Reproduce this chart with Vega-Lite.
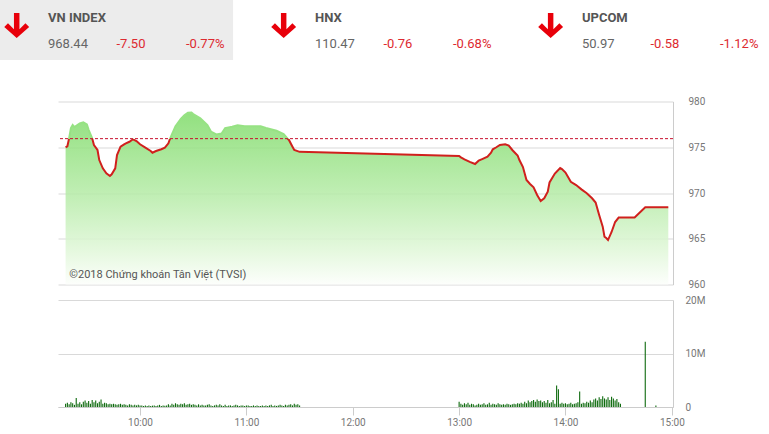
{
  "$schema": "https://vega.github.io/schema/vega-lite/v6.json",
  "padding": 0,
  "background": "white",
  "config": {
    "view": {"stroke": null},
    "font": "Roboto",
    "axis": {"labelFont": "Roboto", "labelColor": "#777777", "labelFontSize": 10, "gridColor": "#d9d9d9", "domainColor": "#cccccc", "tickColor": "#cccccc"}
  },
  "bounds": "flush",
  "spacing": 41.5,
  "vconcat": [
    {
      "width": 709,
      "height": 60,
      "data": {"values": [
        {"idx": "VN INDEX", "val": "968.44", "chg": "-7.50", "pct": "-0.77%"},
        {"idx": "HNX", "val": "110.47", "chg": "-0.76", "pct": "-0.68%"},
        {"idx": "UPCOM", "val": "50.97", "chg": "-0.58", "pct": "-1.12%"}
      ]},
      "layer": [
        {
          "mark": {"type": "rect"},
          "encoding": {
            "x": {"field": "idx", "type": "nominal", "scale": {"domain": ["VN INDEX", "HNX", "UPCOM"], "range": [-58, 709], "paddingInner": 0.127, "paddingOuter": 0}, "axis": null},
            "fill": {"condition": {"test": "datum.idx === 'VN INDEX'", "value": "#ececec"}, "value": "transparent"}
          }
        },
        {
          "mark": {"type": "point", "shape": "M-0.22,-1L0.22,-1L0.22,0.3L0.7,-0.18L1,0.12L0,1L-1,0.12L-0.7,-0.18L-0.22,0.3Z", "size": 620, "filled": true, "fill": "#e8000a", "opacity": 1, "strokeWidth": 0, "xOffset": 16.7, "yOffset": -4.5},
          "encoding": {"x": {"field": "idx", "type": "nominal", "bandPosition": 0, "axis": null}}
        },
        {
          "mark": {"type": "text", "align": "left", "baseline": "alphabetic", "dx": 48, "dy": -8, "fontSize": 13, "fontWeight": "bold", "fill": "#555555"},
          "encoding": {"x": {"field": "idx", "type": "nominal", "bandPosition": 0, "axis": null}, "text": {"field": "idx"}}
        },
        {
          "mark": {"type": "text", "align": "left", "baseline": "alphabetic", "dx": 48, "dy": 18, "fontSize": 13, "fill": "#666666"},
          "encoding": {"x": {"field": "idx", "type": "nominal", "bandPosition": 0, "axis": null}, "text": {"field": "val"}}
        },
        {
          "mark": {"type": "text", "align": "left", "baseline": "alphabetic", "dx": 116.5, "dy": 18, "fontSize": 13, "fill": "#dd2a30"},
          "encoding": {"x": {"field": "idx", "type": "nominal", "bandPosition": 0, "axis": null}, "text": {"field": "chg"}}
        },
        {
          "mark": {"type": "text", "align": "left", "baseline": "alphabetic", "dx": 186, "dy": 18, "fontSize": 13, "fill": "#dd2a30"},
          "encoding": {"x": {"field": "idx", "type": "nominal", "bandPosition": 0, "axis": null}, "text": {"field": "pct"}}
        }
      ]
    },
    {
      "bounds": "flush",
      "spacing": 15.5,
      "vconcat": [
        {
          "width": 615,
          "height": 183,
          "data": {"format": {"parse": {"t": "date:'%H:%M'"}}, "values": [
            {"t": "09:18", "p": 975.0}, {"t": "09:19", "p": 975.1}, {"t": "09:20", "p": 976.0}, {"t": "09:21", "p": 977.1},
            {"t": "09:22", "p": 977.43}, {"t": "09:23", "p": 977.2}, {"t": "09:26", "p": 977.6}, {"t": "09:28", "p": 977.73},
            {"t": "09:30", "p": 977.5}, {"t": "09:31", "p": 976.9}, {"t": "09:33", "p": 975.98}, {"t": "09:34", "p": 975.25},
            {"t": "09:36", "p": 974.7}, {"t": "09:37", "p": 973.6}, {"t": "09:39", "p": 972.7}, {"t": "09:41", "p": 972.15},
            {"t": "09:43", "p": 971.86}, {"t": "09:44", "p": 972.04}, {"t": "09:46", "p": 972.7}, {"t": "09:47", "p": 974.15},
            {"t": "09:49", "p": 975.06}, {"t": "09:51", "p": 975.32}, {"t": "09:52", "p": 975.43}, {"t": "09:54", "p": 975.6},
            {"t": "09:56", "p": 975.87}, {"t": "09:58", "p": 975.68}, {"t": "10:00", "p": 975.32}, {"t": "10:03", "p": 974.95},
            {"t": "10:06", "p": 974.59}, {"t": "10:07", "p": 974.4}, {"t": "10:09", "p": 974.59}, {"t": "10:12", "p": 974.78},
            {"t": "10:14", "p": 974.95}, {"t": "10:16", "p": 975.43}, {"t": "10:17", "p": 975.98}, {"t": "10:20", "p": 977.3},
            {"t": "10:23", "p": 978.1}, {"t": "10:25", "p": 978.5}, {"t": "10:27", "p": 978.78}, {"t": "10:29", "p": 978.8},
            {"t": "10:30", "p": 978.63}, {"t": "10:34", "p": 978.16}, {"t": "10:38", "p": 977.43}, {"t": "10:40", "p": 976.72},
            {"t": "10:43", "p": 976.4}, {"t": "10:46", "p": 976.5}, {"t": "10:48", "p": 977.1}, {"t": "10:52", "p": 977.25},
            {"t": "10:55", "p": 977.4}, {"t": "10:59", "p": 977.3}, {"t": "11:04", "p": 977.3}, {"t": "11:08", "p": 977.3},
            {"t": "11:11", "p": 977.1}, {"t": "11:17", "p": 976.8}, {"t": "11:21", "p": 976.45}, {"t": "11:23", "p": 976.0},
            {"t": "11:24", "p": 975.8}, {"t": "11:26", "p": 975.06}, {"t": "11:27", "p": 974.7}, {"t": "11:30", "p": 974.5},
            {"t": "13:00", "p": 974.05}, {"t": "13:01", "p": 973.9}, {"t": "13:03", "p": 973.68}, {"t": "13:06", "p": 973.4},
            {"t": "13:09", "p": 973.17}, {"t": "13:11", "p": 973.53}, {"t": "13:13", "p": 973.7}, {"t": "13:16", "p": 973.97},
            {"t": "13:18", "p": 974.4}, {"t": "13:19", "p": 974.78}, {"t": "13:21", "p": 975.0}, {"t": "13:23", "p": 975.25},
            {"t": "13:26", "p": 975.33}, {"t": "13:28", "p": 975.19}, {"t": "13:30", "p": 974.7}, {"t": "13:33", "p": 974.1},
            {"t": "13:34", "p": 973.6}, {"t": "13:36", "p": 972.84}, {"t": "13:38", "p": 971.42}, {"t": "13:40", "p": 970.98},
            {"t": "13:42", "p": 970.62}, {"t": "13:44", "p": 969.78}, {"t": "13:46", "p": 969.12}, {"t": "13:48", "p": 969.42},
            {"t": "13:50", "p": 970.14}, {"t": "13:51", "p": 971.15}, {"t": "13:54", "p": 972.13}, {"t": "13:57", "p": 972.73},
            {"t": "13:58", "p": 972.62}, {"t": "14:00", "p": 972.24}, {"t": "14:03", "p": 971.23}, {"t": "14:06", "p": 970.87},
            {"t": "14:09", "p": 970.4}, {"t": "14:12", "p": 969.97}, {"t": "14:15", "p": 969.42}, {"t": "14:17", "p": 968.96},
            {"t": "14:19", "p": 967.59}, {"t": "14:21", "p": 966.32}, {"t": "14:22", "p": 965.22}, {"t": "14:23", "p": 965.08},
            {"t": "14:24", "p": 964.86}, {"t": "14:26", "p": 965.74}, {"t": "14:28", "p": 966.83}, {"t": "14:30", "p": 967.32},
            {"t": "14:39", "p": 967.32}, {"t": "14:45", "p": 968.44}, {"t": "14:58", "p": 968.44}
          ]},
          "layer": [
            {
              "mark": {"type": "area", "fillOpacity": 0.85, "fill": {"gradient": "linear", "x1": 0, "y1": 0, "x2": 0, "y2": 1, "stops": [
                {"offset": 0, "color": "#7fdb69"}, {"offset": 0.5, "color": "#b8ecaa"}, {"offset": 0.8, "color": "#e0f7d8"}, {"offset": 1, "color": "#fcfefb"}]}},
              "encoding": {
                "x": {"field": "t", "type": "temporal", "scale": {"domain": [{"year": 1900, "month": 1, "date": 1, "hours": 9, "minutes": 13, "seconds": 43}, {"year": 1900, "month": 1, "date": 1, "hours": 15, "minutes": 0, "seconds": 39}], "nice": false}, "axis": null},
                "y": {"field": "p", "type": "quantitative", "scale": {"domain": [960, 980], "nice": false, "zero": false}, "axis": {"orient": "right", "values": [960, 965, 970, 975, 980], "ticks": false, "labelPadding": 15, "title": null}},
                "y2": {"datum": 960}
              }
            },
            {
              "mark": {"type": "line", "strokeWidth": 2, "stroke": {"gradient": "linear", "x1": 0, "y1": 0, "x2": 0, "y2": 1, "stops": [
                {"offset": 0, "color": "#96e283"}, {"offset": 0.2052, "color": "#96e283"}, {"offset": 0.2052, "color": "#d0201d"}, {"offset": 1, "color": "#d0201d"}]}},
              "encoding": {
                "x": {"field": "t", "type": "temporal"},
                "y": {"field": "p", "type": "quantitative"}
              }
            },
            {
              "data": {"values": [{"ref": 975.94}]},
              "mark": {"type": "rule", "color": "#c8102e", "strokeDash": [3, 2], "strokeWidth": 1},
              "encoding": {"y": {"field": "ref", "type": "quantitative"}}
            },
            {
              "data": {"values": [{"label": "©2018 Chứng khoán Tân Việt (TVSI)"}]},
              "mark": {"type": "text", "align": "left", "baseline": "middle", "fontSize": 11, "fill": "#555555"},
              "encoding": {
                "text": {"field": "label"},
                "x": {"datum": {"year": 1900, "month": 1, "date": 1, "hours": 9, "minutes": 20, "seconds": 6}, "type": "temporal"},
                "y": {"datum": 961.04, "type": "quantitative"}
              }
            }
          ]
        },
        {
          "width": 615,
          "height": 107,
          "data": {"format": {"parse": {"t": "date:'%H:%M'"}}, "values": [
            {"t": "09:18", "v": 0.6}, {"t": "09:19", "v": 0.8}, {"t": "09:20", "v": 0.5}, {"t": "09:21", "v": 0.9}, {"t": "09:22", "v": 0.7},
            {"t": "09:23", "v": 0.4}, {"t": "09:24", "v": 1.7}, {"t": "09:25", "v": 0.6}, {"t": "09:26", "v": 0.9}, {"t": "09:27", "v": 0.5},
            {"t": "09:28", "v": 1.0}, {"t": "09:29", "v": 1.2}, {"t": "09:30", "v": 0.8}, {"t": "09:31", "v": 1.1}, {"t": "09:32", "v": 0.6},
            {"t": "09:33", "v": 1.3}, {"t": "09:34", "v": 0.9}, {"t": "09:35", "v": 1.2}, {"t": "09:36", "v": 0.7}, {"t": "09:37", "v": 1.0},
            {"t": "09:38", "v": 1.4}, {"t": "09:39", "v": 0.6}, {"t": "09:40", "v": 0.8}, {"t": "09:41", "v": 0.7}, {"t": "09:42", "v": 0.5},
            {"t": "09:43", "v": 0.6}, {"t": "09:44", "v": 0.5}, {"t": "09:45", "v": 0.6}, {"t": "09:46", "v": 0.5}, {"t": "09:47", "v": 0.4},
            {"t": "09:48", "v": 0.5}, {"t": "09:49", "v": 0.6}, {"t": "09:50", "v": 0.4}, {"t": "09:51", "v": 0.5}, {"t": "09:52", "v": 0.4},
            {"t": "09:53", "v": 0.3}, {"t": "09:54", "v": 0.5}, {"t": "09:55", "v": 0.4}, {"t": "09:56", "v": 0.3}, {"t": "09:57", "v": 0.4},
            {"t": "09:58", "v": 0.3}, {"t": "09:59", "v": 0.4}, {"t": "10:00", "v": 0.3}, {"t": "10:01", "v": 0.3}, {"t": "10:02", "v": 0.2},
            {"t": "10:03", "v": 0.3}, {"t": "10:04", "v": 0.2}, {"t": "10:05", "v": 0.3}, {"t": "10:06", "v": 0.2}, {"t": "10:07", "v": 0.25},
            {"t": "10:08", "v": 0.3}, {"t": "10:09", "v": 0.2}, {"t": "10:10", "v": 0.3}, {"t": "10:11", "v": 0.4}, {"t": "10:12", "v": 0.2},
            {"t": "10:13", "v": 0.3}, {"t": "10:14", "v": 0.25}, {"t": "10:15", "v": 0.3}, {"t": "10:16", "v": 0.5}, {"t": "10:17", "v": 0.3},
            {"t": "10:18", "v": 0.6}, {"t": "10:19", "v": 0.4}, {"t": "10:20", "v": 0.7}, {"t": "10:21", "v": 0.5}, {"t": "10:22", "v": 0.4},
            {"t": "10:23", "v": 0.6}, {"t": "10:24", "v": 0.5}, {"t": "10:25", "v": 0.7}, {"t": "10:26", "v": 0.4}, {"t": "10:27", "v": 0.5},
            {"t": "10:28", "v": 0.6}, {"t": "10:29", "v": 0.4}, {"t": "10:30", "v": 0.5}, {"t": "10:31", "v": 0.4}, {"t": "10:32", "v": 0.3},
            {"t": "10:33", "v": 0.5}, {"t": "10:34", "v": 0.3}, {"t": "10:35", "v": 0.4}, {"t": "10:36", "v": 0.3}, {"t": "10:37", "v": 0.3},
            {"t": "10:38", "v": 0.4}, {"t": "10:39", "v": 0.5}, {"t": "10:40", "v": 0.3}, {"t": "10:41", "v": 0.2}, {"t": "10:42", "v": 0.3},
            {"t": "10:43", "v": 0.4}, {"t": "10:44", "v": 0.3}, {"t": "10:45", "v": 0.5}, {"t": "10:46", "v": 0.3}, {"t": "10:47", "v": 0.2},
            {"t": "10:48", "v": 0.4}, {"t": "10:49", "v": 0.2}, {"t": "10:50", "v": 0.3}, {"t": "10:51", "v": 0.3}, {"t": "10:52", "v": 0.2},
            {"t": "10:53", "v": 0.3}, {"t": "10:54", "v": 0.4}, {"t": "10:55", "v": 0.3}, {"t": "10:56", "v": 0.2}, {"t": "10:57", "v": 0.3},
            {"t": "10:58", "v": 0.3}, {"t": "10:59", "v": 0.2}, {"t": "11:00", "v": 0.3}, {"t": "11:01", "v": 0.3}, {"t": "11:02", "v": 0.2},
            {"t": "11:03", "v": 0.2}, {"t": "11:04", "v": 0.3}, {"t": "11:05", "v": 0.2}, {"t": "11:06", "v": 0.3}, {"t": "11:07", "v": 0.2},
            {"t": "11:08", "v": 0.2}, {"t": "11:09", "v": 0.3}, {"t": "11:10", "v": 0.2}, {"t": "11:11", "v": 0.3}, {"t": "11:12", "v": 0.2},
            {"t": "11:13", "v": 0.3}, {"t": "11:14", "v": 0.4}, {"t": "11:15", "v": 0.2}, {"t": "11:16", "v": 0.3}, {"t": "11:17", "v": 0.2},
            {"t": "11:18", "v": 0.3}, {"t": "11:19", "v": 0.4}, {"t": "11:20", "v": 0.3}, {"t": "11:21", "v": 0.2}, {"t": "11:22", "v": 0.4},
            {"t": "11:23", "v": 0.3}, {"t": "11:24", "v": 0.4}, {"t": "11:25", "v": 0.5}, {"t": "11:26", "v": 0.3}, {"t": "11:27", "v": 0.6},
            {"t": "11:28", "v": 0.4}, {"t": "11:29", "v": 0.5}, {"t": "11:30", "v": 0.3},
            {"t": "13:00", "v": 1.0}, {"t": "13:01", "v": 0.6}, {"t": "13:02", "v": 0.4}, {"t": "13:03", "v": 0.7}, {"t": "13:04", "v": 0.5},
            {"t": "13:05", "v": 0.8}, {"t": "13:06", "v": 0.4}, {"t": "13:07", "v": 0.6}, {"t": "13:08", "v": 0.5}, {"t": "13:09", "v": 0.3},
            {"t": "13:10", "v": 0.4}, {"t": "13:11", "v": 0.6}, {"t": "13:12", "v": 0.4}, {"t": "13:13", "v": 0.5}, {"t": "13:14", "v": 0.7},
            {"t": "13:15", "v": 0.4}, {"t": "13:16", "v": 0.5}, {"t": "13:17", "v": 0.8}, {"t": "13:18", "v": 0.4}, {"t": "13:19", "v": 0.6},
            {"t": "13:20", "v": 0.5}, {"t": "13:21", "v": 0.4}, {"t": "13:22", "v": 0.7}, {"t": "13:23", "v": 0.5}, {"t": "13:24", "v": 0.4},
            {"t": "13:25", "v": 0.5}, {"t": "13:26", "v": 0.4}, {"t": "13:27", "v": 0.6}, {"t": "13:28", "v": 0.5}, {"t": "13:29", "v": 0.4},
            {"t": "13:30", "v": 0.5}, {"t": "13:31", "v": 0.6}, {"t": "13:32", "v": 0.5}, {"t": "13:33", "v": 0.7}, {"t": "13:34", "v": 0.6},
            {"t": "13:35", "v": 0.8}, {"t": "13:36", "v": 0.6}, {"t": "13:37", "v": 1.0}, {"t": "13:38", "v": 0.7}, {"t": "13:39", "v": 1.2},
            {"t": "13:40", "v": 0.9}, {"t": "13:41", "v": 1.1}, {"t": "13:42", "v": 1.3}, {"t": "13:43", "v": 1.0}, {"t": "13:44", "v": 1.4},
            {"t": "13:45", "v": 1.1}, {"t": "13:46", "v": 1.2}, {"t": "13:47", "v": 0.9}, {"t": "13:48", "v": 1.1}, {"t": "13:49", "v": 0.8},
            {"t": "13:50", "v": 1.3}, {"t": "13:51", "v": 0.7}, {"t": "13:52", "v": 0.9}, {"t": "13:53", "v": 1.3}, {"t": "13:54", "v": 0.6},
            {"t": "13:55", "v": 4.0}, {"t": "13:56", "v": 3.3}, {"t": "13:57", "v": 0.6}, {"t": "13:58", "v": 0.8}, {"t": "13:59", "v": 0.6},
            {"t": "14:00", "v": 0.7}, {"t": "14:01", "v": 0.5}, {"t": "14:02", "v": 0.6}, {"t": "14:03", "v": 0.8}, {"t": "14:04", "v": 0.5},
            {"t": "14:05", "v": 0.6}, {"t": "14:06", "v": 0.7}, {"t": "14:07", "v": 0.9}, {"t": "14:08", "v": 2.9}, {"t": "14:09", "v": 0.6},
            {"t": "14:10", "v": 0.8}, {"t": "14:11", "v": 0.7}, {"t": "14:12", "v": 1.0}, {"t": "14:13", "v": 0.8}, {"t": "14:14", "v": 1.2},
            {"t": "14:15", "v": 0.9}, {"t": "14:16", "v": 1.4}, {"t": "14:17", "v": 1.6}, {"t": "14:18", "v": 1.2}, {"t": "14:19", "v": 1.8},
            {"t": "14:20", "v": 1.5}, {"t": "14:21", "v": 2.0}, {"t": "14:22", "v": 1.6}, {"t": "14:23", "v": 1.4}, {"t": "14:24", "v": 1.8},
            {"t": "14:25", "v": 1.3}, {"t": "14:26", "v": 1.9}, {"t": "14:27", "v": 1.6}, {"t": "14:28", "v": 1.2}, {"t": "14:29", "v": 1.5},
            {"t": "14:30", "v": 0.9}, {"t": "14:31", "v": 0.6}, {"t": "14:45", "v": 12.2}, {"t": "14:51", "v": 0.3}
          ]},
          "mark": {"type": "rule", "color": "#0e6a0e", "strokeWidth": 1.1},
          "encoding": {
            "x": {"field": "t", "type": "temporal", "scale": {"domain": [{"year": 1900, "month": 1, "date": 1, "hours": 9, "minutes": 13, "seconds": 43}, {"year": 1900, "month": 1, "date": 1, "hours": 15, "minutes": 0, "seconds": 39}], "nice": false},
              "axis": {"values": [
                {"year": 1900, "month": 1, "date": 1, "hours": 10}, {"year": 1900, "month": 1, "date": 1, "hours": 11}, {"year": 1900, "month": 1, "date": 1, "hours": 12},
                {"year": 1900, "month": 1, "date": 1, "hours": 13}, {"year": 1900, "month": 1, "date": 1, "hours": 14}, {"year": 1900, "month": 1, "date": 1, "hours": 15}],
                "format": "%H:%M", "grid": false, "tickSize": 8, "labelPadding": 2, "labelFlush": false, "title": null}},
            "y": {"field": "v", "type": "quantitative", "scale": {"domain": [0, 20], "nice": false}, "axis": {"orient": "right", "values": [0, 10, 20], "ticks": false, "labelPadding": 12, "labelExpr": "datum.value == 0 ? '0' : datum.value + 'M'", "title": null}},
            "y2": {"datum": 0}
          }
        }
      ]
    }
  ]
}
